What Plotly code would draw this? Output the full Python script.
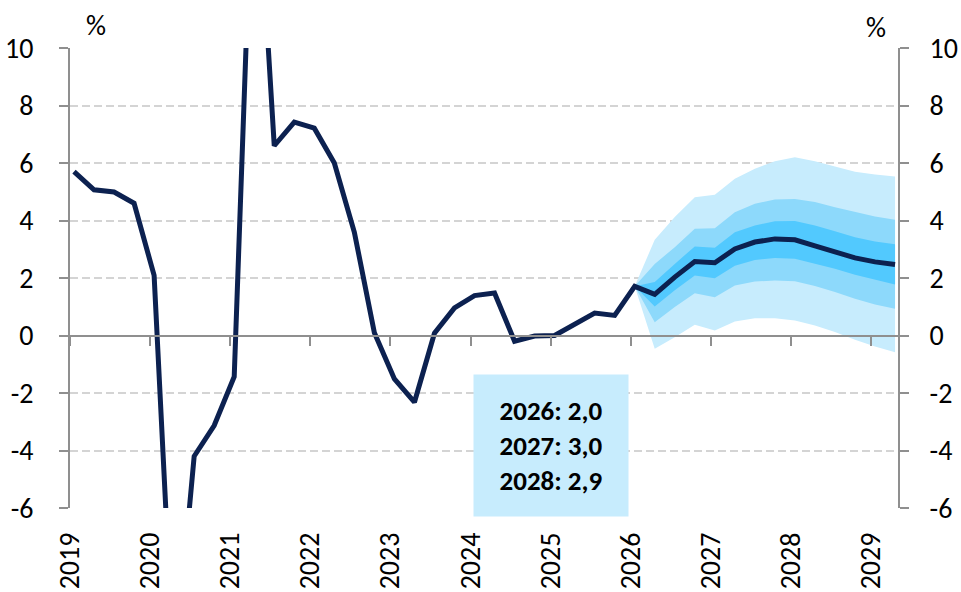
import plotly.graph_objects as go

# ---------------- data ----------------
START_YEAR = 2019
# quarterly history, 2019Q1 .. 2026Q1 (%)
history = [5.7, 5.07, 4.99, 4.6, 2.09, -11.8, -4.2, -3.13, -1.43, 18.0,
           6.6, 7.42, 7.21, 6.0, 3.59, 0.1, -1.51, -2.32, 0.08, 0.96,
           1.39, 1.48, -0.2, -0.02, 0.0, 0.4, 0.78, 0.7, 1.71]
# forecast, 2026Q1 .. 2029Q2
forecast = [1.71, 1.43, 2.03, 2.57, 2.53, 3.01, 3.25, 3.36, 3.33, 3.12,
            2.90, 2.70, 2.56, 2.47]
inner_upper = [1.71, 1.86, 2.49, 3.10, 3.05, 3.59, 3.83, 3.97, 3.98, 3.83,
               3.63, 3.42, 3.27, 3.17]
inner_lower = [1.71, 1.01, 1.57, 2.09, 1.99, 2.43, 2.63, 2.70, 2.67, 2.49,
               2.32, 2.11, 1.94, 1.77]
mid_upper = [1.71, 2.49, 3.07, 3.71, 3.73, 4.29, 4.58, 4.73, 4.75, 4.64,
             4.46, 4.29, 4.14, 4.03]
mid_lower = [1.71, 0.46, 0.99, 1.47, 1.33, 1.74, 1.88, 1.91, 1.89, 1.72,
             1.51, 1.28, 1.08, 0.93]
outer_upper = [1.71, 3.33, 4.12, 4.81, 4.90, 5.45, 5.80, 6.06, 6.20, 6.06,
               5.88, 5.70, 5.60, 5.53]
outer_lower = [1.71, -0.46, -0.06, 0.37, 0.17, 0.49, 0.60, 0.60, 0.52, 0.35,
               0.12, -0.15, -0.38, -0.58]

x_ticks = list(range(2019, 2030))
x_tick_text = [str(y) for y in x_ticks]
y_ticks = [-6, -4, -2, 0, 2, 4, 6, 8, 10]
y_tick_text = ["-6", "-4", "-2", "0", "2", "4", "6", "8", "10"]

annual_years = [2026, 2027, 2028]
annual_values = [2.0, 3.0, 2.9]

# ---------------- styling ----------------
NAVY = "#0C2150"
C_OUTER = "#C7ECFD"
C_MID = "#8DD9FB"
C_INNER = "#52C9FE"
AXIS = "#8F8F8F"
GRID = "#D4D4D4"
FONT = "Carlito, Calibri, Lato, sans-serif"
FS = 28
POINT_OFFSET = 0.05  # points sit slightly right of the year ticks

n_hist = len(history)
x_all = [START_YEAR + k / 4 + POINT_OFFSET for k in range(n_hist + len(forecast) - 1)]
x_hist = x_all[:n_hist]
x_fc = x_all[n_hist - 1:]

fig = go.Figure()


def band(lower, upper, color):
    fig.add_trace(go.Scatter(x=x_fc, y=lower, mode="lines", line=dict(width=0, color=color),
                             hoverinfo="skip", showlegend=False))
    fig.add_trace(go.Scatter(x=x_fc, y=upper, mode="lines", line=dict(width=0, color=color),
                             fill="tonexty", fillcolor=color, hoverinfo="skip", showlegend=False))


band(outer_lower, outer_upper, C_OUTER)
band(mid_lower, mid_upper, C_MID)
band(inner_lower, inner_upper, C_INNER)

fig.add_trace(go.Scatter(x=x_hist + x_fc[1:], y=history + forecast[1:], mode="lines",
                         line=dict(color=NAVY, width=5), showlegend=False))

# invisible trace to carry the secondary axes (zero-line x axis, right y axis)
fig.add_trace(go.Scatter(x=[x_ticks[0]], y=[0], xaxis="x2", yaxis="y2", mode="markers",
                         marker=dict(opacity=0), hoverinfo="skip", showlegend=False))

x_range = [2019, 2029.337]
y_range = [-6, 10]

box_text = "<br>".join(f"{y}: {v:.1f}".replace(".", ",") for y, v in zip(annual_years, annual_values))

fig.update_layout(
    width=961, height=592,
    margin=dict(l=70, r=63, t=48, b=84, autoexpand=False),
    paper_bgcolor="white", plot_bgcolor="white",
    font=dict(family=FONT, size=FS, color="black"),
    xaxis=dict(range=x_range, tickvals=x_ticks, ticktext=x_tick_text, tickangle=-90,
               showgrid=False, showline=False, ticks="", zeroline=False, automargin=False,
               ticklabelstandoff=18, tickfont=dict(size=FS)),
    xaxis2=dict(range=x_range, overlaying="x", anchor="free", position=0.375,
                tickvals=x_ticks, showticklabels=False, showgrid=False, zeroline=False,
                showline=True, linecolor=AXIS, linewidth=2, automargin=False,
                ticks="outside", ticklen=9, tickwidth=2, tickcolor=AXIS),
    yaxis=dict(range=y_range, tickvals=y_ticks, ticktext=y_tick_text,
               showgrid=True, gridcolor=GRID, gridwidth=1.5, griddash="8px,4px",
               showline=True, linecolor=AXIS, linewidth=2, zeroline=False, automargin=False,
               ticks="outside", ticklen=9, tickwidth=2, tickcolor=AXIS,
               ticklabelstandoff=20, tickfont=dict(size=FS)),
    yaxis2=dict(range=y_range, tickvals=y_ticks, ticktext=y_tick_text, overlaying="y",
                side="right", anchor="x", showgrid=False, zeroline=False, automargin=False,
                showline=True, linecolor=AXIS, linewidth=2,
                ticks="outside", ticklen=9, tickwidth=2, tickcolor=AXIS,
                ticklabelstandoff=15, tickfont=dict(size=FS)),
    annotations=[
        dict(text=box_text, xref="x", yref="y", x=2025.0, y=-3.84, showarrow=False,
             width=154, height=141, bgcolor=C_OUTER, borderpad=0, align="center",
             valign="middle", font=dict(family=FONT, size=27, color="black", weight="bold")),
        dict(text="%", xref="paper", yref="paper", x=0.0316, y=1.049, showarrow=False,
             xanchor="center", yanchor="middle", font=dict(size=FS)),
        dict(text="%", xref="paper", yref="paper", x=0.974, y=1.044, showarrow=False,
             xanchor="center", yanchor="middle", font=dict(size=FS)),
    ],
)

fig.write_html("out.html", config={"displayModeBar": False},
               post_script="document.body.style.margin='0';document.body.style.overflow='hidden';")
